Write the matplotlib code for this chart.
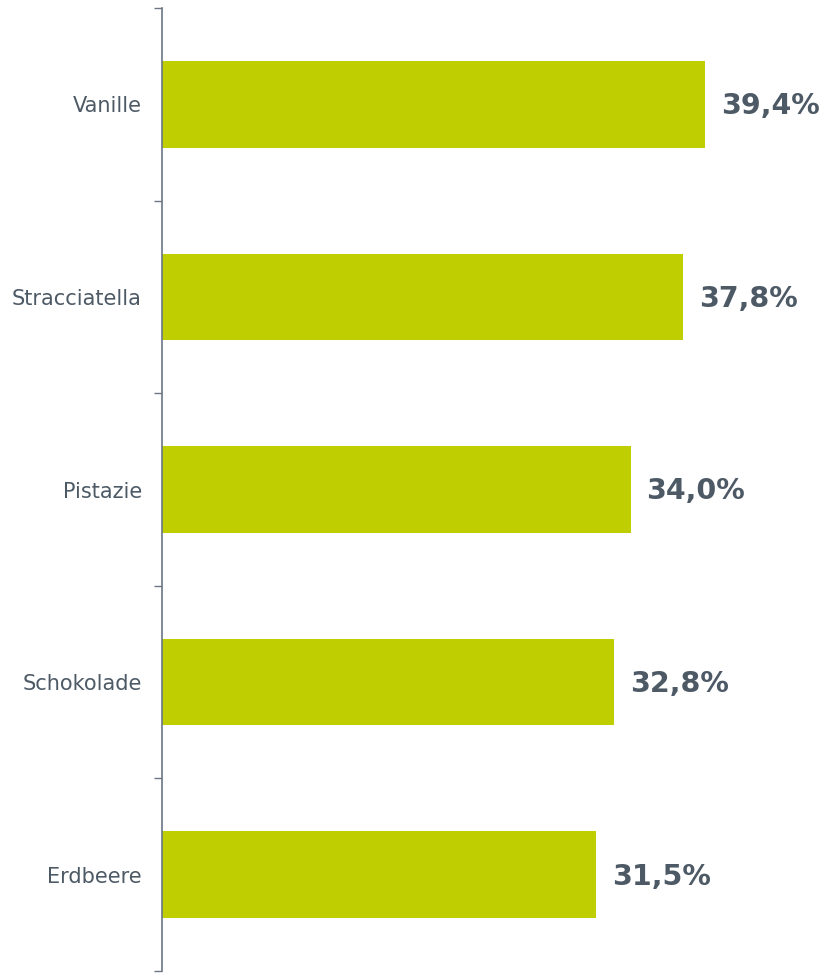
import matplotlib
matplotlib.use("Agg")
import matplotlib.pyplot as plt
from matplotlib.ticker import FixedLocator

categories = ["Vanille", "Stracciatella", "Pistazie", "Schokolade", "Erdbeere"]
values = [39.4, 37.8, 34.0, 32.8, 31.5]
labels = ["39,4%", "37,8%", "34,0%", "32,8%", "31,5%"]

bar_color = "#BFCE00"
text_color = "#4D5A66"
axis_color = "#6B7785"

fig = plt.figure(figsize=(8.25, 9.73), dpi=100)
ax = fig.add_axes([162/825, 2/973, 1 - 162/825, 963/973])

y = list(range(len(categories)))
ax.barh(y, values, height=0.45, color=bar_color, zorder=2)
for yi, v, lab in zip(y, values, labels):
    ax.text(v + 1.15, yi + 0.01, lab, va="center", ha="left", fontsize=20.5,
            fontweight="bold", color=text_color, family="DejaVu Sans")

ax.set_ylim(len(categories) - 0.5, -0.5)
ax.set_xlim(0, 48.1)

ax.yaxis.set_major_locator(FixedLocator([i - 0.5 for i in range(len(categories) + 1)]))
ax.yaxis.set_minor_locator(FixedLocator(y))
ax.set_yticklabels([])
ax.set_yticklabels(categories, minor=True)
ax.tick_params(axis="y", which="major", length=6, width=1, color=axis_color, direction="out")
ax.tick_params(axis="y", which="minor", length=0, pad=14.5, labelsize=15, labelcolor=text_color)
ax.set_xticks([])

for s in ["top", "right", "bottom"]:
    ax.spines[s].set_visible(False)
ax.spines["left"].set_color(axis_color)
ax.spines["left"].set_linewidth(1.2)

fig.savefig("out.png", dpi=100)
